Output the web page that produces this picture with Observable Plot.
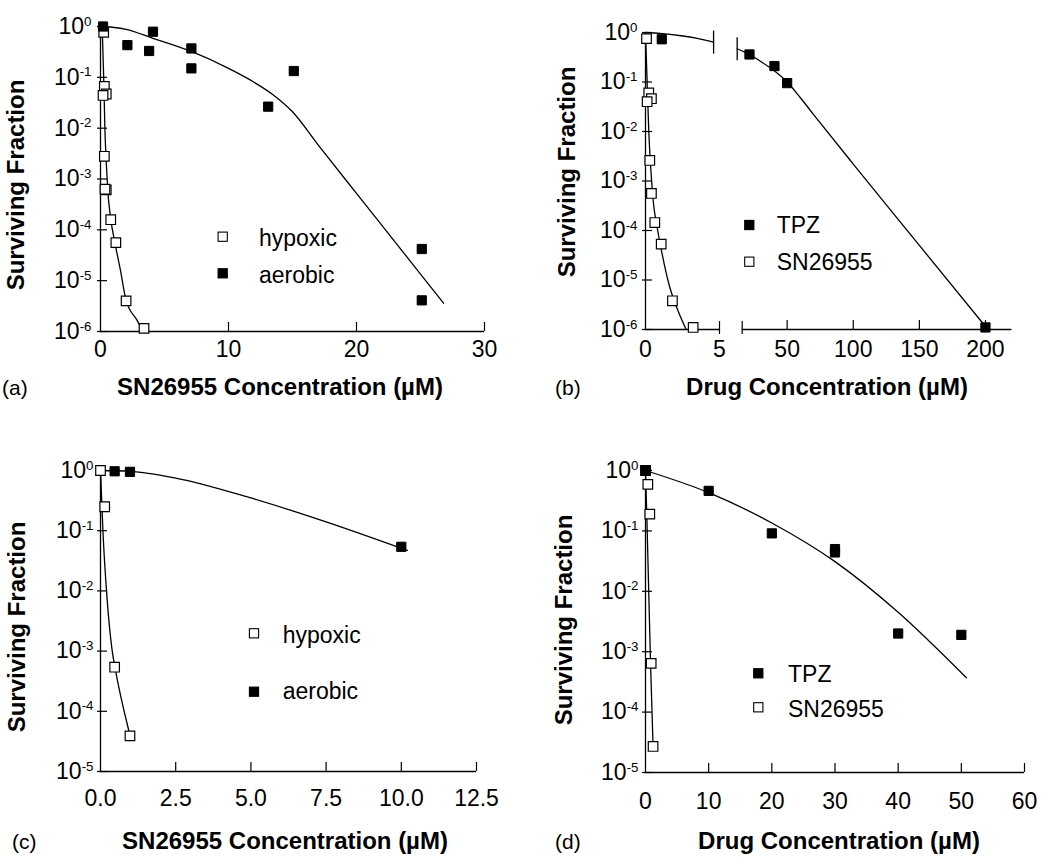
<!DOCTYPE html>
<html><head><meta charset="utf-8">
<script src="https://cdn.jsdelivr.net/npm/d3@7"></script>
<script src="https://cdn.jsdelivr.net/npm/@observablehq/plot@0.6"></script>
<style>
html,body{margin:0;padding:0;background:#fff;}
#root{position:relative;width:1050px;height:864px;overflow:hidden;font-family:"Liberation Sans",Arial,Helvetica,sans-serif;}
#root svg{position:absolute;left:0;top:0;overflow:visible;}
</style></head><body><div id="root"></div>
<script>
// ================= DATA =================
const yTicksTop = [1, 0.1, 0.01, 0.001, 1e-4, 1e-5, 1e-6];
const yTicksBottom = [1, 0.1, 0.01, 0.001, 1e-4, 1e-5];

// (a) SN26955, hypoxic vs aerobic
const aXTicks = [0, 10, 20, 30];
const aHypoxicX = [0.25, 0.3, 0.45, 0.2, 0.3, 0.45, 0.35, 0.8, 1.2, 2.0, 3.4];
const aHypoxicY = [0.77, 0.066, 0.047, 0.044, 0.0028, 6.1e-4, 6.3e-4, 1.58e-4, 5.6e-5, 4.0e-6, 1.15e-6];
const aAerobicX = [0.2, 2.1, 4.1, 3.8, 7.1, 7.1, 13.1, 15.1, 25.1, 25.1];
const aAerobicY = [1.0, 0.43, 0.79, 0.33, 0.37, 0.15, 0.0265, 0.133, 4.2e-5, 4.1e-6];
const aHypoxicFitX = [0.13, 0.26, 0.34, 0.47, 0.57, 0.78, 1.17, 1.56, 2.0, 2.86, 3.3];
const aHypoxicFitY = [1.0, 0.08, 0.0104, 0.0017, 5.9e-4, 1.8e-4, 4.9e-5, 1.6e-5, 4.1e-6, 1.66e-6, 1.05e-6];
const aAerobicFitX = [0.2, 2, 4, 7, 10, 12, 13.5, 15, 17, 20, 25, 26.8];
const aAerobicFitY = [1.0, 0.88, 0.6, 0.33, 0.15, 0.08, 0.045, 0.021, 0.0047, 5.2e-4, 1.35e-5, 3.6e-6];

// (b) TPZ vs SN26955 (broken x axis)
const bXTicksLeft = [0, 5];
const bXTicksRight = [50, 100, 150, 200];
const bBreakLeft = [5];
const bBreakRight = [16];
const bSnX = [0.07, 0.22, 0.4, 0.11, 0.29, 0.4, 0.63, 1.06, 1.82, 3.22];
const bSnY = [0.75, 0.06, 0.046, 0.04, 0.0026, 5.6e-4, 1.45e-4, 5.3e-5, 3.8e-6, 1.1e-6];
const bTpzX = [1.1, 21.5, 40.4, 50, 200];
const bTpzY = [0.73, 0.36, 0.21, 0.095, 1.1e-6];
const bSnFitX = [0, 0.11, 0.22, 0.38, 0.52, 0.79, 1.13, 1.58, 2.15, 2.75];
const bSnFitY = [1.0, 0.1, 0.0105, 0.0014, 4e-4, 1.15e-4, 3.3e-5, 8.3e-6, 2.6e-6, 1e-6];
const bTpzFitLeftX = [0, 1, 2.4, 3.5, 4.6];
const bTpzFitLeftY = [1.0, 0.96, 0.86, 0.76, 0.64];
const bTpzFitRightX = [12.2, 21.5, 30, 40, 50, 60, 70, 100, 150, 200];
const bTpzFitRightY = [0.47, 0.36, 0.26, 0.17, 0.1, 0.048, 0.022, 2.2e-3, 5e-5, 1.15e-6];

// (c) SN26955, hypoxic vs aerobic
const cXTicks = [0, 2.5, 5, 7.5, 10, 12.5];
const cHypoxicX = [0, 0.14, 0.47, 0.98];
const cHypoxicY = [1.0, 0.25, 5.4e-4, 3.9e-5];
const cAerobicX = [0.47, 0.98, 10];
const cAerobicY = [0.97, 0.95, 0.054];
const cHypoxicFitX = [0, 0.08, 0.2, 0.39, 0.48, 0.94];
const cHypoxicFitY = [1.0, 0.1, 0.01, 0.001, 5.4e-4, 4.8e-5];
const cAerobicFitX = [0, 1, 2.5, 5, 7.5, 10.2];
const cAerobicFitY = [1.0, 0.97, 0.75, 0.35, 0.14, 0.047];

// (d) TPZ vs SN26955
const dXTicks = [0, 10, 20, 30, 40, 50, 60];
const dTpzX = [0, 10, 20, 30, 30, 40, 50];
const dTpzY = [1.0, 0.46, 0.091, 0.05, 0.044, 0.002, 0.0019];
const dSnX = [0, 0.37, 0.68, 0.9, 1.2];
const dSnY = [1.0, 0.59, 0.19, 6.4e-4, 2.7e-5];
const dTpzFitX = [0, 10, 20, 30, 40, 50.8];
const dTpzFitY = [1.0, 0.43, 0.135, 0.031, 0.0045, 3.7e-4];
const dSnFitX = [0, 0.2, 0.8, 1.2];
const dSnFitY = [1.0, 0.19, 6.4e-4, 2.7e-5];

// ================= LAYOUT =================
const W = 1050, H = 864;
const FONT = '"Liberation Sans", Arial, Helvetica, sans-serif';
const FS = 23;
const rows = (xs, ys) => xs.map((x, i) => ({x, y: ys[i]}));
const pow = d => "10^" + Math.round(Math.log10(d));
const vbar = {draw(ctx, size) { const h = Math.sqrt(size / Math.PI); ctx.moveTo(0, -h); ctx.lineTo(0, h); }};

const root = document.getElementById("root");

function frame(b) {
  return {width: W, height: H, marginLeft: b.x0, marginRight: W - b.x1, marginTop: b.y0, marginBottom: H - b.y1,
    style: {background: "transparent", fontFamily: FONT, fontSize: FS + "px", color: "black", overflow: "visible"}};
}
function supify(svg) {
  svg.querySelectorAll("text").forEach(t => {
    const m = /^10\^(-?\d+)$/.exec(t.textContent);
    if (!m) return;
    while (t.firstChild) t.removeChild(t.firstChild);
    t.appendChild(document.createTextNode("10"));
    const s = document.createElementNS("http://www.w3.org/2000/svg", "tspan");
    s.setAttribute("font-size", "0.58em");
    s.setAttribute("dy", "-0.62em");
    s.textContent = m[1];
    t.appendChild(s);
  });
  return svg;
}
const fitLine = (data) => Plot.line(data, {x: "x", y: "y", curve: "monotone-x", stroke: "black", strokeWidth: 1.3});
const openSq = (data) => Plot.dot(data, {x: "x", y: "y", symbol: "square", r: 5.4, fill: "white", stroke: "black", strokeWidth: 1.2});
const fillSq = (data) => Plot.dot(data, {x: "x", y: "y", symbol: "square", r: 5.2, fill: "black", stroke: "black", strokeWidth: 1});
const yAxisMarks = (ticks, pad) => [
  Plot.axisY(ticks, {tickSize: 10, dx: 7, fill: "none", label: null, strokeWidth: 1.2}),
  Plot.axisY(ticks, {tickSize: 0, tickPadding: pad, tickFormat: pow, fontSize: FS, label: null})
];
const xTickMarks = (ticks) => Plot.axisX(ticks, {tickSize: 9, dy: -9, fill: "none", label: null, strokeWidth: 1.2});
const xLabelMarks = (ticks, pad, fmt) => Plot.axisX(ticks, {tickSize: 0, tickPadding: pad, fontSize: FS, label: null, tickFormat: fmt});
const axisLines = (x0, y0) => [Plot.ruleX([x0], {strokeWidth: 1.3}), Plot.ruleY([y0], {strokeWidth: 1.3})];

// ---- (a)
root.appendChild(supify(Plot.plot({
  ...frame({x0: 100, x1: 484, y0: 26, y1: 331}),
  x: {domain: [0, 30]},
  y: {type: "log", domain: [1e-6, 1]},
  marks: [
    ...axisLines(0, 1e-6),
    ...yAxisMarks(yTicksTop, 9),
    xTickMarks(aXTicks.filter(d => d > 0)),
    xLabelMarks(aXTicks, 9, d => String(d)),
    fitLine(rows(aHypoxicFitX, aHypoxicFitY)),
    fitLine(rows(aAerobicFitX, aAerobicFitY)),
    openSq(rows(aHypoxicX, aHypoxicY)),
    fillSq(rows(aAerobicX, aAerobicY))
  ]
})));

// ---- (b) left part
const bTpz = rows(bTpzX, bTpzY);
const bLeftFit = rows(bTpzFitLeftX, bTpzFitLeftY);
const bRightFit = rows(bTpzFitRightX, bTpzFitRightY);
root.appendChild(supify(Plot.plot({
  ...frame({x0: 645, x1: 719, y0: 32, y1: 329}),
  x: {domain: [0, 5]},
  y: {type: "log", domain: [1e-6, 1]},
  marks: [
    ...axisLines(0, 1e-6),
    ...yAxisMarks(yTicksTop, 8),
    Plot.axisX(bBreakLeft, {tickSize: 13, dy: -8, fill: "none", label: null, strokeWidth: 1.2}),
    xLabelMarks(bXTicksLeft, 11, d => String(d)),
    fitLine(bLeftFit),
    Plot.dot([bLeftFit[bLeftFit.length - 1]], {x: "x", y: "y", symbol: vbar, r: 11.5, fill: "none", stroke: "black", strokeWidth: 1.3}),
    fitLine(rows(bSnFitX, bSnFitY)),
    openSq(rows(bSnX, bSnY)),
    fillSq(bTpz.filter(d => d.x <= 5))
  ]
})));
// ---- (b) right part
root.appendChild(Plot.plot({
  ...frame({x0: 741.7, x1: 1011.4, y0: 32, y1: 329}),
  x: {domain: [16, 220]},
  y: {type: "log", domain: [1e-6, 1], axis: null},
  marks: [
    Plot.ruleY([1e-6], {strokeWidth: 1.3}),
    Plot.axisX(bBreakRight, {tickSize: 13, dy: -8, fill: "none", label: null, strokeWidth: 1.2}),
    xTickMarks(bXTicksRight),
    xLabelMarks(bXTicksRight, 11, d => String(d)),
    fitLine(bRightFit),
    Plot.dot([bRightFit[0]], {x: "x", y: "y", symbol: vbar, r: 11.5, fill: "none", stroke: "black", strokeWidth: 1.3}),
    fillSq(bTpz.filter(d => d.x > 5))
  ]
}));

// ---- (c)
root.appendChild(supify(Plot.plot({
  ...frame({x0: 100, x1: 476, y0: 470, y1: 771}),
  x: {domain: [0, 12.5]},
  y: {type: "log", domain: [1e-5, 1]},
  marks: [
    ...axisLines(0, 1e-5),
    ...yAxisMarks(yTicksBottom, 7),
    xTickMarks(cXTicks.filter(d => d > 0)),
    xLabelMarks(cXTicks, 18, d3.format(".1f")),
    fitLine(rows(cHypoxicFitX, cHypoxicFitY)),
    fitLine(rows(cAerobicFitX, cAerobicFitY)),
    fillSq(rows(cAerobicX, cAerobicY)),
    openSq(rows(cHypoxicX, cHypoxicY))
  ]
})));

// ---- (d)
root.appendChild(supify(Plot.plot({
  ...frame({x0: 645, x1: 1024, y0: 470, y1: 772}),
  x: {domain: [0, 60]},
  y: {type: "log", domain: [1e-5, 1]},
  marks: [
    ...axisLines(0, 1e-5),
    ...yAxisMarks(yTicksBottom, 7),
    xTickMarks(dXTicks.filter(d => d > 0)),
    xLabelMarks(dXTicks, 20, d => String(d)),
    fitLine(rows(dTpzFitX, dTpzFitY)),
    fitLine(rows(dSnFitX, dSnFitY)),
    openSq(rows(dSnX, dSnY)),
    fillSq(rows(dTpzX, dTpzY))
  ]
})));

// ---- titles, panel letters, legends
const ov = d3.create("svg").attr("width", W).attr("height", H)
  .style("font-family", FONT).style("fill", "black");
const titles = [
  {x: 280, y: 395, t: "SN26955 Concentration (µM)"},
  {x: 827, y: 395, t: "Drug Concentration (µM)"},
  {x: 285, y: 849, t: "SN26955 Concentration (µM)"},
  {x: 839, y: 849, t: "Drug Concentration (µM)"}
];
titles.forEach(d => ov.append("text").attr("x", d.x).attr("y", d.y).attr("text-anchor", "middle")
  .attr("font-size", 24).attr("font-weight", "bold").text(d.t));
const yTitles = [{x: 24, y: 185}, {x: 575, y: 172}, {x: 25, y: 627}, {x: 572, y: 620}];
yTitles.forEach(d => ov.append("text").attr("transform", `translate(${d.x},${d.y}) rotate(-90)`)
  .attr("text-anchor", "middle").attr("font-size", 24).attr("font-weight", "bold").text("Surviving Fraction"));
const letters = [{x: 2, y: 395, t: "(a)"}, {x: 555, y: 395, t: "(b)"}, {x: 12, y: 849, t: "(c)"}, {x: 555, y: 849, t: "(d)"}];
letters.forEach(d => ov.append("text").attr("x", d.x).attr("y", d.y).attr("font-size", 21).text(d.t));
const legend = [
  {cx: 222.7, cy: 236.7, tx: 259, ty: 246, filled: false, t: "hypoxic"},
  {cx: 222.7, cy: 273.3, tx: 259, ty: 283, filled: true, t: "aerobic"},
  {cx: 749.3, cy: 225, tx: 776.7, ty: 233.3, filled: true, t: "TPZ"},
  {cx: 749.3, cy: 261.7, tx: 776.7, ty: 270, filled: false, t: "SN26955"},
  {cx: 254, cy: 633.3, tx: 282.7, ty: 643.3, filled: false, t: "hypoxic"},
  {cx: 254, cy: 691.7, tx: 282.7, ty: 699.3, filled: true, t: "aerobic"},
  {cx: 758.3, cy: 673.3, tx: 788, ty: 681.7, filled: true, t: "TPZ"},
  {cx: 758.3, cy: 707.3, tx: 788, ty: 716.7, filled: false, t: "SN26955"}
];
legend.forEach(d => {
  ov.append("rect").attr("x", d.cx - 4.6).attr("y", d.cy - 4.6).attr("width", 9.2).attr("height", 9.2)
    .attr("fill", d.filled ? "black" : "white").attr("stroke", "black").attr("stroke-width", 1.1);
  ov.append("text").attr("x", d.tx).attr("y", d.ty).attr("font-size", FS).text(d.t);
});
root.appendChild(ov.node());
</script>
</body></html>
